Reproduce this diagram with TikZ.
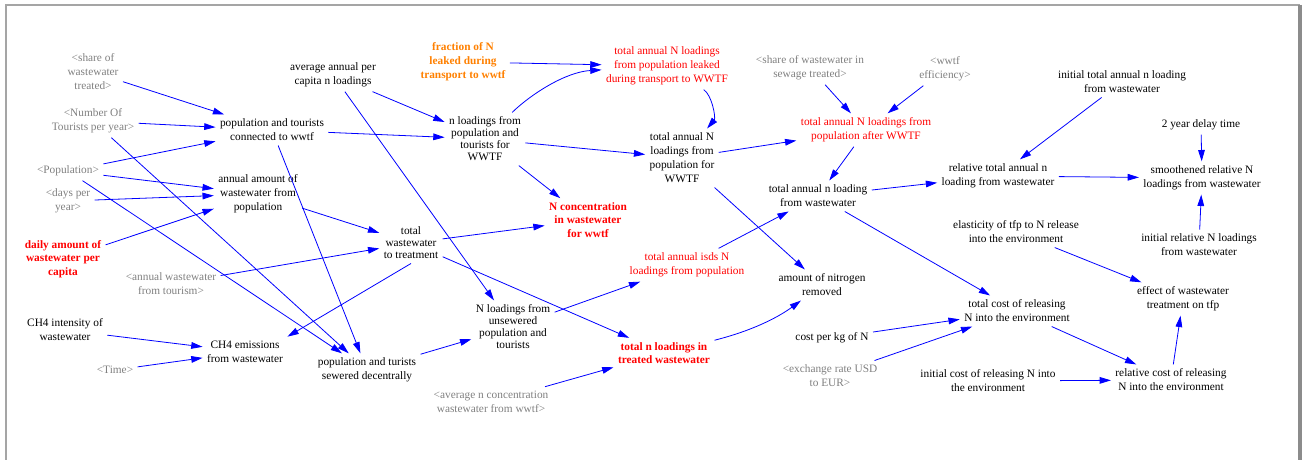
\documentclass[tikz,border=0pt]{standalone}
\usepackage{fontspec}
\setmainfont{Liberation Serif}
\usepackage{tikz}
\usetikzlibrary{arrows.meta}
\tikzset{every picture/.style={line width=0.75pt}}
\definecolor{linkblue}{RGB}{0,0,255}
\definecolor{shadowgray}{RGB}{128,128,128}
\definecolor{leakorange}{RGB}{255,128,0}
\definecolor{framegray}{RGB}{165,165,165}
\tikzset{
  lbl/.style={align=center, inner sep=3pt, font=\fontsize{8.5}{10.5}\selectfont},
  var/.style={lbl},
  tight/.style={lbl, font=\fontsize{8.5}{9}\selectfont},
  shadow/.style={lbl, text=shadowgray},
  hot/.style={lbl, text=red},
  hotb/.style={lbl, text=red, font=\fontsize{8.5}{10}\selectfont\bfseries},
  leakb/.style={lbl, text=leakorange, font=\fontsize{8.5}{10.5}\selectfont\bfseries},
  link/.style={draw=linkblue, line width=0.6pt, -{Triangle[length=8.5pt,width=5pt]}},
}

\begin{document}
\begin{tikzpicture}[x=0.75pt,y=0.75pt,yscale=-1,xscale=1]
\useasboundingbox (0,0) rectangle (1304,460);

%Frame
\draw [framegray, line width=1.5pt] (6,460) -- (6,5) -- (1300,5) ;
\draw [framegray!85!black, line width=2.5pt] (1300,5) -- (1300,460) ;

% Text Node
\draw (93,72) node [shadow] (shtr) {<share of\\wastewater\\treated>};
% Text Node
\draw (93,121) node [shadow] (tour) {<Number Of\\Tourists per year>};
% Text Node
\draw (68,171) node [shadow] (pop) {<Population>};
% Text Node
\draw (68,201) node [shadow] (days) {<days per\\year>};
% Text Node
\draw (63,259) node [hotb] (daily) {daily amount of\\wastewater per\\capita};
% Text Node
\draw (171,284) node [shadow] (awtour) {<annual wastewater\\from tourism>};
% Text Node
\draw (65,330) node [var] (ch4int) {CH4 intensity of\\wastewater};
% Text Node
\draw (115,370) node [shadow] (time) {<Time>};
% Text Node
\draw (245,352) node [var] (ch4) {CH4 emissions\\from wastewater};
% Text Node
\draw (367,370) node [var] (sewdec) {population and turists\\sewered decentrally};
% Text Node
\draw (272,130) node [var] (popconn) {population and tourists\\connected to wwtf};
% Text Node
\draw (258,194) node [var] (annww) {annual amount of\\wastewater from\\population};
% Text Node
\draw (333,75) node [var] (avgpc) {average annual per\\capita n loadings};
% Text Node
\draw (463,62) node [leakb] (frac) {fraction of N\\leaked during\\transport to wwtf};
% Text Node
\draw (667,66) node [hot] (leak) {total annual N loadings\\from population leaked\\during transport to WWTF};
% Text Node
\draw (485,139) node [tight] (nwwtf) {n loadings from\\population and\\tourists for\\WWTF};
% Text Node
\draw (588,220) node [hotb] (nconc) {N concentration\\in wastewater\\for wwtf};
% Text Node
\draw (411,243) node [tight] (tww) {total\\wastewater\\to treatment};
% Text Node
\draw (682,158) node [var] (nforw) {total annual N\\loadings from\\population for\\WWTF};
% Text Node
\draw (810,68) node [shadow] (shsew) {<share of wastewater in\\sewage treated>};
% Text Node
\draw (945,69) node [shadow] (eff) {<wwtf\\efficiency>};
% Text Node
\draw (866,130) node [hot] (after) {total annual N loadings from\\population after WWTF};
% Text Node
\draw (818,196) node [var] (tanl) {total annual n loading\\from wastewater};
% Text Node
\draw (687,265) node [hot] (isds) {total annual isds N\\loadings from population};
% Text Node
\draw (822,285) node [var] (nrem) {amount of nitrogen\\removed};
% Text Node
\draw (513,327) node [tight] (unsew) {N loadings from\\unsewered\\population and\\tourists};
% Text Node
\draw (664,353) node [hotb] (treat) {total n loadings in\\treated wastewater};
% Text Node
\draw (491,402) node [shadow] (avgconc) {<average n concentration\\wastewater from wwtf>};
% Text Node
\draw (832,338) node [var] (costkg) {cost per kg of N};
% Text Node
\draw (830,376) node [shadow] (exch) {<exchange rate USD\\to EUR>};
% Text Node
\draw (1017,311) node [var] (tcost) {total cost of releasing\\N into the environment};
% Text Node
\draw (988,381) node [var] (icost) {initial cost of releasing N into\\the environment};
% Text Node
\draw (1171,380) node [var] (rcost) {relative cost of releasing\\N into the environment};
% Text Node
\draw (1183,299) node [var] (efftfp) {effect of wastewater\\treatment on tfp};
% Text Node
\draw (1016,232) node [var] (elast) {elasticity of tfp to N release\\into the environment};
% Text Node
\draw (1199,245) node [var] (irel) {initial relative N loadings\\from wastewater};
% Text Node
\draw (1202,178) node [var] (smooth) {smoothened relative N\\loadings from wastewater};
% Text Node
\draw (1201,125) node [var] (delay) {2 year delay time};
% Text Node
\draw (1122,82) node [var] (itot) {initial total annual n loading\\from wastewater};
% Text Node
\draw (998,176) node [var] (reltot) {relative total annual n\\loading from wastewater};

%Straight Lines
\draw [link] (shtr) -- (popconn) ;
\draw [link] (tour) -- (popconn) ;
\draw [link] (pop) -- (popconn) ;
\draw [link] (pop) -- (annww) ;
\draw [link] (days) -- (annww) ;
\draw [link] (daily) -- (annww) ;

%Straight Lines
\draw [link] (pop) -- (sewdec) ;
\draw [link] (tour) -- (sewdec) ;
\draw [link] (popconn) -- (sewdec) ;
\draw [link] (popconn) -- (nwwtf) ;
\draw [link] (annww) -- (tww) ;
\draw [link] (awtour) -- (tww) ;

%Straight Lines
\draw [link] (tww.south) -- (ch4.north east) ;
\draw [link] (tww) -- (nconc) ;
\draw [link] (tww) -- (treat) ;
\draw [link] (ch4int) -- (ch4) ;
\draw [link] (time) -- (ch4) ;
\draw [link] (avgpc) -- (nwwtf) ;
\draw [link] (avgpc) -- (unsew) ;

%Straight Lines
\draw [link] (frac) -- (leak) ;
\draw [link] (nwwtf) -- (nforw) ;
\draw [link] (nwwtf) -- (nconc) ;
\draw [link] (nforw) -- (after) ;
\draw [link] (nforw) -- (nrem) ;
\draw [link] (shsew) -- (after) ;
\draw [link] (eff) -- (after) ;
\draw [link] (after) -- (tanl) ;

%Curve Lines
\draw [link] (nwwtf) .. controls (530,95) and (565,72) .. (leak) ;
\draw [link] (leak) .. controls (712,95) and (716,118) .. (nforw) ;
\draw [link] (treat) .. controls (755,330) and (780,316) .. (nrem) ;

%Straight Lines
\draw [link] (sewdec) -- (unsew) ;
\draw [link] (unsew) -- (isds) ;
\draw [link] (isds) -- (tanl) ;
\draw [link] (avgconc) -- (treat) ;
\draw [link] (tanl) -- (reltot) ;
\draw [link] (tanl) -- (tcost) ;

%Straight Lines
\draw [link] (costkg) -- (tcost) ;
\draw [link] (exch) -- (tcost) ;
\draw [link] (tcost) -- (rcost) ;
\draw [link] (icost) -- (rcost) ;
\draw [link] (rcost) -- (efftfp) ;
\draw [link] (elast) -- (efftfp) ;

%Straight Lines
\draw [link] (itot) -- (reltot) ;
\draw [link] (reltot) -- (smooth) ;
\draw [link] (delay) -- (smooth) ;
\draw [link] (irel) -- (smooth) ;

\end{tikzpicture}
\end{document}
